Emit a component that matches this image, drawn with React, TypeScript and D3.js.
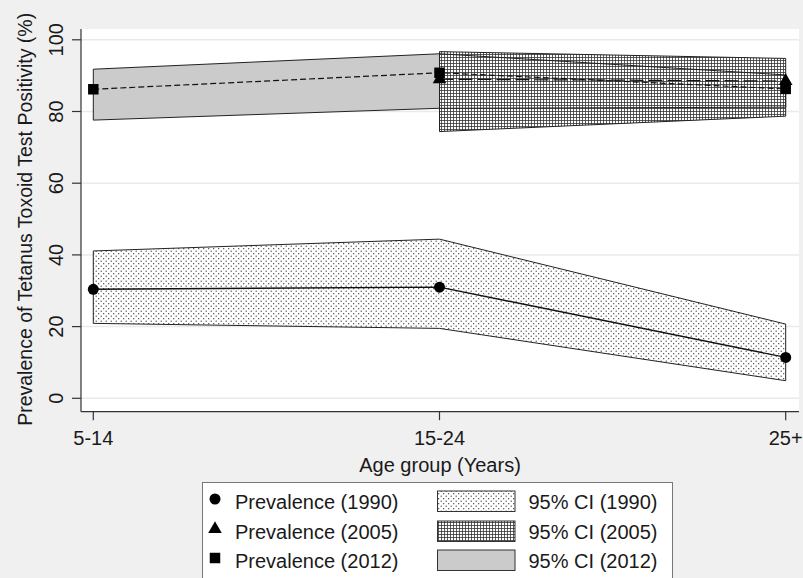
import React from 'react'
import * as d3 from 'd3'

// age groups on the x axis
const ageGroups = ['5-14', '15-24', '25+']
const yTicks = [0, 20, 40, 60, 80, 100]

// 1990 survey
const prev1990 = [30.4, 31.0, 11.4]
const lo1990 = [20.9, 19.5, 4.9]
const hi1990 = [41.1, 44.4, 20.7]

// 2005 survey (no 5-14 group)
const prev2005 = [null, 89.0, 88.5]
const lo2005 = [null, 74.4, 78.7]
const hi2005 = [null, 96.7, 94.8]

// 2012 survey
const prev2012 = [86.2, 90.8, 86.3]
const lo2012 = [77.6, 80.9, 81.2]
const hi2012 = [91.8, 96.1, 90.2]

const legendMarkers = ['Prevalence (1990)', 'Prevalence (2005)', 'Prevalence (2012)']
const legendAreas = ['95% CI (1990)', '95% CI (2005)', '95% CI (2012)']

const W = 803
const H = 578
const font = '"Liberation Sans", Arial, Helvetica, sans-serif'

type Row = { g: string; v: number | null; lo: number | null; hi: number | null }

function rows(v: (number | null)[], lo: (number | null)[], hi: (number | null)[]): Row[] {
  return ageGroups.map((g, i) => ({ g, v: v[i], lo: lo[i], hi: hi[i] })).filter(d => d.v != null)
}

export default function App() {
  const plot = { left: 81, right: 799, top: 29, bottom: 411.7 }
  const x = d3.scalePoint<string>().domain(ageGroups).range([93.3, 785.7])
  const y = d3.scaleLinear().domain([0, 100]).range([398.3, 39.8])

  const r1990 = rows(prev1990, lo1990, hi1990)
  const r2005 = rows(prev2005, lo2005, hi2005)
  const r2012 = rows(prev2012, lo2012, hi2012)

  const area = d3.area<Row>()
    .x(d => x(d.g) as number)
    .y0(d => y(d.lo as number))
    .y1(d => y(d.hi as number))
  const line = d3.line<Row>()
    .x(d => x(d.g) as number)
    .y(d => y(d.v as number))

  // closed outline of a band
  const outline = (rs: Row[]) => {
    const pts: [number, number][] = rs.map(d => [x(d.g) as number, y(d.hi as number)])
    const back: [number, number][] = rs.slice().reverse().map(d => [x(d.g) as number, y(d.lo as number)])
    return d3.line()(pts.concat(back)) + 'Z'
  }

  const circle = d3.symbol(d3.symbolCircle, 95)()
  const triangle = d3.symbol(d3.symbolTriangle, 80)()
  const square = d3.symbol(d3.symbolSquare, 110)()
  const markers = [circle, triangle, square]

  const legend = { x: 202.5, y: 482.5, w: 470, h: 100 }
  const rowY = [501, 531, 560]

  return (
    <div style={{ position: 'absolute', left: 0, top: 0 }}>
      <svg width={W} height={H} style={{ display: 'block', fontFamily: font }}>
        <defs>
          <pattern id="dots" width={5} height={5} patternUnits="userSpaceOnUse">
            <rect width={5} height={5} fill="#fff" />
            <circle cx={1.2} cy={1.2} r={0.65} fill="#333" />
            <circle cx={3.7} cy={3.7} r={0.65} fill="#333" />
          </pattern>
          <pattern id="hatch" width={3} height={3} patternUnits="userSpaceOnUse">
            <rect width={3} height={3} fill="#fff" />
            <path d="M0,0.5H3M0.5,0V3" stroke="#333" strokeWidth={0.8} />
          </pattern>
        </defs>
        <rect width={W} height={H} fill="#f0f0f0" />
        <rect x={plot.left} y={plot.top} width={plot.right - plot.left} height={plot.bottom - plot.top} fill="#fff" />

        {/* grid */}
        {yTicks.map(t => (
          <line key={t} x1={plot.left} x2={plot.right} y1={y(t)} y2={y(t)} stroke="#eaeaea" strokeWidth={1.5} />
        ))}

        {/* CI bands */}
        <path d={area(r1990) as string} fill="url(#dots)" />
        <path d={outline(r1990)} fill="none" stroke="#222" strokeWidth={1} />
        <path d={area(r2012) as string} fill="#cbcbcb" />
        <path d={area(r2005) as string} fill="url(#hatch)" />
        <path d={outline(r2012)} fill="none" stroke="#222" strokeWidth={1} />
        <path d={outline(r2005)} fill="none" stroke="#222" strokeWidth={1} />

        {/* prevalence lines */}
        <path d={line(r1990) as string} fill="none" stroke="#111" strokeWidth={1.4} />
        <path d={line(r2005) as string} fill="none" stroke="#111" strokeWidth={1.2} strokeDasharray="14,5" />
        <path d={line(r2012) as string} fill="none" stroke="#111" strokeWidth={1.2} strokeDasharray="6,3" />

        {r1990.map(d => (
          <path key={'c' + d.g} d={circle as string} transform={`translate(${x(d.g)},${y(d.v as number)})`} fill="#000" />
        ))}
        {r2005.map(d => (
          <path key={'t' + d.g} d={triangle as string} transform={`translate(${x(d.g)},${y(d.v as number)})`} fill="#000" />
        ))}
        {r2012.map(d => (
          <path key={'s' + d.g} d={square as string} transform={`translate(${x(d.g)},${y(d.v as number)})`} fill="#000" />
        ))}

        {/* axes */}
        <line x1={plot.left} x2={plot.left} y1={plot.top} y2={plot.bottom} stroke="#333" strokeWidth={1.2} />
        <line x1={plot.left} x2={plot.right} y1={plot.bottom} y2={plot.bottom} stroke="#333" strokeWidth={1.2} />
        {yTicks.map(t => (
          <g key={'yt' + t}>
            <line x1={plot.left - 9} x2={plot.left} y1={y(t)} y2={y(t)} stroke="#333" strokeWidth={1.2} />
            <text transform={`translate(63,${y(t)}) rotate(-90)`} textAnchor="middle" fontSize={20} fill="#1a1a1a">{t}</text>
          </g>
        ))}
        {ageGroups.map(g => (
          <g key={'xt' + g}>
            <line x1={x(g)} x2={x(g)} y1={plot.bottom} y2={plot.bottom + 8.5} stroke="#333" strokeWidth={1.2} />
            <text x={x(g)} y={445} textAnchor="middle" fontSize={20} fill="#1a1a1a">{g}</text>
          </g>
        ))}
        <text x={440} y={472} textAnchor="middle" fontSize={20} fill="#1a1a1a">Age group (Years)</text>
        <text transform={`translate(32,${(plot.top + plot.bottom) / 2 - 1}) rotate(-90)`} textAnchor="middle" fontSize={19.5} fill="#1a1a1a">
          Prevalence of Tetanus Toxoid Test Positivity (%)
        </text>

        {/* legend */}
        <rect x={legend.x} y={legend.y} width={legend.w} height={legend.h} fill="#fff" stroke="#777" strokeWidth={1} />
        {legendMarkers.map((l, i) => (
          <g key={l}>
            <path d={markers[i] as string} transform={`translate(215,${rowY[i] - 2})`} fill="#000" />
            <text x={235} y={rowY[i] + 8} fontSize={20} fill="#1a1a1a">{l}</text>
          </g>
        ))}
        {legendAreas.map((l, i) => (
          <g key={l}>
            <rect x={437.5} y={rowY[i] - 10} width={77.5} height={20.5}
              fill={i === 0 ? 'url(#dots)' : i === 1 ? 'url(#hatch)' : '#cbcbcb'} stroke="#333" strokeWidth={1} />
            <text x={528.5} y={rowY[i] + 8} fontSize={20} fill="#1a1a1a">{l}</text>
          </g>
        ))}
      </svg>
    </div>
  )
}
